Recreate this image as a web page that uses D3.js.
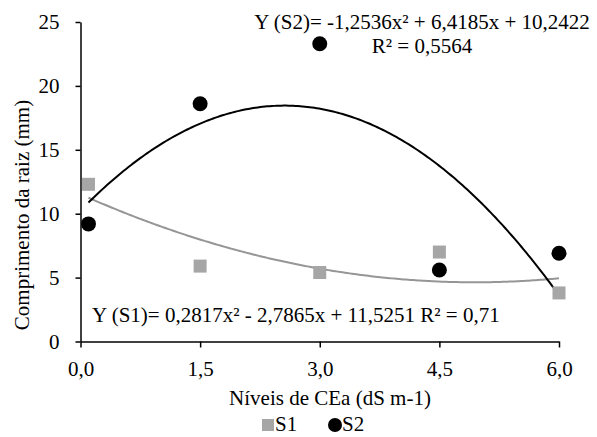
<!DOCTYPE html>
<html>
<head>
<meta charset="utf-8">
<script src="https://cdn.jsdelivr.net/npm/d3@7/dist/d3.min.js"></script>
<style>
  html, body { margin: 0; padding: 0; background: #fff; }
</style>
</head>
<body>
<svg id="chart" width="597" height="437"></svg>
<script>
// Data
const xLevels = [0.1, 1.5, 3.0, 4.5, 6.0];
const s1Values = [12.3, 5.9, 5.4, 7.0, 3.8];
const s2Values = [9.2, 18.6, 23.3, 5.6, 6.9];
const s1Coef = [0.2817, -2.7865, 11.5251];   // a, b, c of a x^2 + b x + c
const s2Coef = [-1.2536, 6.4185, 10.2422];
const xTicks = [0, 1.5, 3.0, 4.5, 6.0];
const yTicks = [0, 5, 10, 15, 20, 25];
const seriesNames = ["S1", "S2"];
const eqS1 = "Y (S1)= 0,2817x² - 2,7865x + 11,5251 R² = 0,71";
const eqS2a = "Y (S2)= -1,2536x² + 6,4185x + 10,2422";
const eqS2b = "R² = 0,5564";
const xTitle = "Níveis de CEa (dS m-1)";
const yTitle = "Comprimento da raiz (mm)";

const FONT = "'Liberation Serif', 'Times New Roman', Times, 'DejaVu Serif', serif";
const svg = d3.select("#chart").attr("font-family", FONT);
const x = d3.scaleLinear().domain([0, 6]).range([80.5, 559]);
const y = d3.scaleLinear().domain([0, 25]).range([341.5, 22]);
const fmt = v => d3.format(".1f")(v).replace(".", ",");

function txt(sel) { return sel.attr("font-family", FONT).attr("font-size", 21).attr("fill", "#000"); }

// Axes
const xAxis = svg.append("g").attr("transform", `translate(0,${y(0)})`)
  .call(d3.axisBottom(x).tickValues(xTicks).tickFormat(fmt).tickSize(6).tickSizeOuter(0).tickPadding(14));
const yAxis = svg.append("g").attr("transform", `translate(${x(0)},0)`)
  .call(d3.axisLeft(y).tickValues(yTicks).tickFormat(d3.format("d")).tickSize(5).tickSizeOuter(0).tickPadding(16));
[xAxis, yAxis].forEach(g => {
  g.attr("font-family", FONT).attr("font-size", 21);
  g.selectAll("path, line").attr("stroke", "#000").attr("stroke-width", 1.5);
  txt(g.selectAll("text"));
});

// Trend lines
const poly = c => v => c[0] * v * v + c[1] * v + c[2];
const xs = d3.range(0, 201).map(i => xLevels[0] + (xLevels[xLevels.length - 1] - xLevels[0]) * i / 200);
const line = d3.line().x(d => x(d[0])).y(d => y(d[1]));
svg.append("path").datum(xs.map(v => [v, poly(s1Coef)(v)]))
  .attr("d", line).attr("fill", "none").attr("stroke", "#969696").attr("stroke-width", 2);
svg.append("path").datum(xs.map(v => [v, poly(s2Coef)(v)]))
  .attr("d", line).attr("fill", "none").attr("stroke", "#000").attr("stroke-width", 2);

// Points
const sq = 13;
svg.append("g").selectAll("rect").data(xLevels.map((v, i) => [v, s1Values[i]])).join("rect")
  .attr("x", d => x(d[0]) - sq / 2).attr("y", d => y(d[1]) - sq / 2)
  .attr("width", sq).attr("height", sq).attr("fill", "#a6a6a6");
svg.append("g").selectAll("circle").data(xLevels.map((v, i) => [v, s2Values[i]])).join("circle")
  .attr("cx", d => x(d[0])).attr("cy", d => y(d[1])).attr("r", 7.5).attr("fill", "#000");

// Equations
txt(svg.append("text")).attr("x", 92).attr("y", 322).text(eqS1);
txt(svg.append("text")).attr("x", 422).attr("y", 29).attr("text-anchor", "middle").text(eqS2a);
txt(svg.append("text")).attr("x", 422).attr("y", 53).attr("text-anchor", "middle").text(eqS2b);

// Titles
txt(svg.append("text")).attr("x", 330).attr("y", 405).attr("text-anchor", "middle").text(xTitle);
txt(svg.append("text")).attr("transform", "translate(29,215) rotate(-90)").attr("text-anchor", "middle").text(yTitle);

// Legend
const lg = svg.append("g");
lg.append("rect").attr("x", 262).attr("y", 419).attr("width", 12).attr("height", 12).attr("fill", "#a6a6a6");
txt(lg.append("text")).attr("x", 275).attr("y", 431).text(seriesNames[0]);
lg.append("circle").attr("cx", 335).attr("cy", 425).attr("r", 7).attr("fill", "#000");
txt(lg.append("text")).attr("x", 342).attr("y", 431).text(seriesNames[1]);
</script>
</body>
</html>
